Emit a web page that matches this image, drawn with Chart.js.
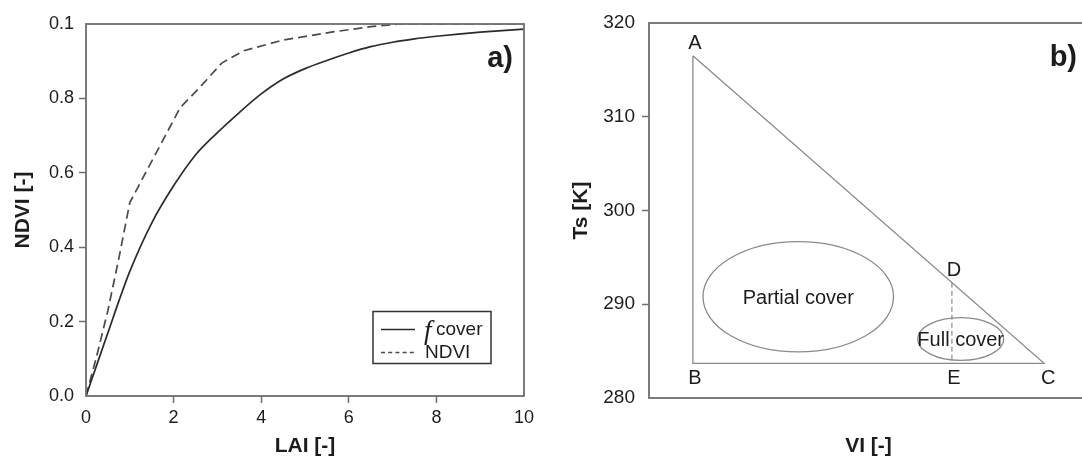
<!DOCTYPE html>
<html>
<head>
<meta charset="utf-8">
<script src="https://cdn.jsdelivr.net/npm/chart.js@4/dist/chart.umd.min.js"></script>
<style>
  html, body { margin: 0; padding: 0; background: #ffffff; overflow: hidden; width: 1082px; height: 459px; }
  #wrap { position: relative; width: 1082px; height: 459px; overflow: hidden; }
  canvas { position: absolute; top: 0; }
  #chartA { left: 0; }
  #chartB { left: 540px; }
</style>
</head>
<body>
<div id="wrap">
  <canvas id="chartA" width="540" height="459"></canvas>
  <canvas id="chartB" width="560" height="459"></canvas>
</div>
<script>
// ---- Panel a) : fcover and NDVI as a function of LAI ----
const laiFcover = [0, 0.25, 0.5, 0.75, 1, 1.5, 2, 2.5, 3, 3.5, 4, 4.5, 5, 5.5, 6, 6.5, 7, 7.5, 8, 8.5, 9, 9.5, 10];
const fcover    = [0, 0.085, 0.17, 0.255, 0.335, 0.465, 0.565, 0.648, 0.708, 0.762, 0.812, 0.852, 0.880, 0.902, 0.922, 0.939, 0.951, 0.960, 0.967, 0.973, 0.978, 0.982, 0.986];
const laiNdvi   = [0, 0.25, 0.5, 0.75, 1, 2.15, 2.6, 3.1, 3.6, 4.5, 5.6, 6.5, 7.2, 10];
const ndvi      = [0, 0.11, 0.23, 0.37, 0.52, 0.775, 0.83, 0.895, 0.928, 0.957, 0.978, 0.993, 1.0, 1.0];
const laiTicks  = [0, 2, 4, 6, 8, 10];
const ndviTickLabels = ['0.0', '0.2', '0.4', '0.6', '0.8', '0.1'];
const seriesNames = ['ƒcover', 'NDVI'];

// ---- Panel b) : Ts / VI triangle ----
const vertexNames = ['A', 'B', 'C', 'D', 'E'];
const vertexVI    = [0.10, 0.10, 0.90, 0.69, 0.69];
const vertexTs    = [316.5, 283.7, 283.7, 292.3, 283.7];
const regionNames = ['Partial cover', 'Full cover'];
const regionVI    = [0.34, 0.71];
const regionTs    = [290.8, 286.3];
const regionRadVI = [0.217, 0.098];
const regionRadTs = [5.88, 2.28];
const tsTicks     = [280, 290, 300, 310, 320];

const FONT = "'Liberation Sans', Arial, sans-serif";
const SERIF = "'Liberation Serif', 'Times New Roman', serif";
const TEXT = '#1c1c1c';
const FRAME = '#6e6e6e';

const pts = (xs, ys) => xs.map((x, i) => ({ x, y: ys[i] }));
const edgeTickColor = c => (c.index === 0 || c.index === c.scale.ticks.length - 1) ? 'rgba(0,0,0,0)' : FRAME;

// frame around the plotting area
const framePlugin = {
  id: 'frame',
  afterDraw(chart) {
    const { ctx, chartArea: a } = chart;
    ctx.save();
    ctx.strokeStyle = FRAME;
    ctx.lineWidth = 1.8;
    ctx.strokeRect(a.left, a.top, a.right - a.left, a.bottom - a.top);
    ctx.restore();
  }
};

// panel tag in the upper right corner
const tagPlugin = {
  id: 'tag',
  afterDraw(chart, args, opts) {
    const { ctx, chartArea: a } = chart;
    ctx.save();
    ctx.fillStyle = TEXT;
    ctx.font = `bold 29px ${FONT}`;
    ctx.textAlign = 'right';
    ctx.textBaseline = 'middle';
    ctx.fillText(opts.text, a.right - 11, a.top + 35);
    ctx.restore();
  }
};

// boxed legend inside the lower right of panel a)
const boxLegendPlugin = {
  id: 'boxLegend',
  afterDraw(chart) {
    const { ctx, chartArea: a } = chart;
    const w = 118, h = 52;
    const x0 = a.right - 33 - w, y0 = a.bottom - 32.5 - h;
    ctx.save();
    ctx.strokeStyle = '#333';
    ctx.lineWidth = 1.5;
    ctx.strokeRect(x0, y0, w, h);
    chart.data.datasets.forEach((ds, i) => {
      const y = y0 + 18 + i * 23;
      ctx.strokeStyle = ds.borderColor;
      ctx.lineWidth = 1.6;
      ctx.setLineDash(ds.borderDash && ds.borderDash.length ? [4, 3.2] : []);
      ctx.beginPath();
      ctx.moveTo(x0 + 8, y);
      ctx.lineTo(x0 + 42, y);
      ctx.stroke();
      ctx.setLineDash([]);
      ctx.fillStyle = TEXT;
      ctx.textAlign = 'left';
      ctx.textBaseline = 'middle';
      let label = ds.label, tx = x0 + 52;
      if (label.startsWith('ƒ')) {
        // the fraction symbol is set as an italic f
        ctx.font = `italic 27px ${SERIF}`;
        ctx.fillText('f', tx - 1, y + 2);
        tx += 11;
        label = label.slice(1);
      }
      ctx.font = `19px ${FONT}`;
      ctx.fillText(label, tx, y);
    });
    ctx.restore();
  }
};

new Chart(document.getElementById('chartA'), {
  type: 'line',
  data: {
    datasets: [
      {
        label: seriesNames[0],
        data: pts(laiFcover, fcover),
        borderColor: '#2b2b2b',
        borderWidth: 1.7,
        pointRadius: 0,
        cubicInterpolationMode: 'monotone',
        fill: false
      },
      {
        label: seriesNames[1],
        data: pts(laiNdvi, ndvi),
        borderColor: '#4a4a4a',
        borderWidth: 1.7,
        borderDash: [9, 5],
        pointRadius: 0,
        tension: 0,
        fill: false
      }
    ]
  },
  options: {
    responsive: false,
    animation: false,
    devicePixelRatio: 1,
    layout: { padding: { top: 24, right: 16, left: 0, bottom: 0 } },
    plugins: {
      legend: { display: false },
      tooltip: { enabled: false },
      tag: { text: 'a)' }
    },
    scales: {
      x: {
        type: 'linear',
        min: 0, max: 10,
        afterBuildTicks: s => { s.ticks = laiTicks.map(v => ({ value: v })); },
        ticks: { color: TEXT, font: { family: FONT, size: 18 }, padding: 4, maxRotation: 0 },
        grid: { drawOnChartArea: false, tickLength: 7, tickWidth: 1.5, tickColor: edgeTickColor },
        border: { display: false },
        title: { display: true, text: 'LAI [-]', color: TEXT, font: { family: FONT, size: 21, weight: 'bold' }, padding: { top: 0, bottom: 0 } },
        afterFit: s => { s.height = 63; }
      },
      y: {
        type: 'linear',
        min: 0, max: 1,
        ticks: {
          stepSize: 0.2,
          color: TEXT, font: { family: FONT, size: 18 }, padding: 5,
          callback: (v, i) => ndviTickLabels[i]
        },
        grid: { drawOnChartArea: false, tickLength: 7, tickWidth: 1.5, tickColor: edgeTickColor },
        border: { display: false },
        title: { display: true, text: 'NDVI [-]', color: TEXT, font: { family: FONT, size: 21, weight: 'bold' }, padding: { top: 11, bottom: 0 } },
        afterFit: s => { s.width = 86; }
      }
    }
  },
  plugins: [framePlugin, tagPlugin, boxLegendPlugin]
});

// ellipses and text annotations of panel b)
const triangleAnnotations = {
  id: 'triangleAnnotations',
  afterDatasetsDraw(chart) {
    const { ctx, scales: { x, y } } = chart;
    ctx.save();
    ctx.strokeStyle = '#8a8a8a';
    ctx.lineWidth = 1.3;
    regionNames.forEach((name, i) => {
      const cx = x.getPixelForValue(regionVI[i]);
      const cy = y.getPixelForValue(regionTs[i]);
      const rx = Math.abs(x.getPixelForValue(regionVI[i] + regionRadVI[i]) - cx);
      const ry = Math.abs(y.getPixelForValue(regionTs[i] + regionRadTs[i]) - cy);
      ctx.beginPath();
      ctx.ellipse(cx, cy, rx, ry, 0, 0, Math.PI * 2);
      ctx.stroke();
      ctx.fillStyle = TEXT;
      ctx.font = `20px ${FONT}`;
      ctx.textAlign = 'center';
      ctx.textBaseline = 'middle';
      ctx.fillText(name, cx, cy + 2);
    });
    ctx.font = `20px ${FONT}`;
    ctx.textAlign = 'center';
    vertexNames.forEach((name, i) => {
      const px = x.getPixelForValue(vertexVI[i]);
      const py = y.getPixelForValue(vertexTs[i]);
      const above = (name === 'A' || name === 'D');
      ctx.textBaseline = above ? 'bottom' : 'top';
      ctx.fillText(name, px + (name === 'C' ? 4 : 2), above ? py - 2 : py + 5);
    });
    ctx.restore();
  }
};

const iA = vertexNames.indexOf('A'), iB = vertexNames.indexOf('B'), iC = vertexNames.indexOf('C');
const iD = vertexNames.indexOf('D'), iE = vertexNames.indexOf('E');

new Chart(document.getElementById('chartB'), {
  type: 'line',
  data: {
    datasets: [
      {
        label: 'ABC',
        data: [iA, iC, iB, iA].map(k => ({ x: vertexVI[k], y: vertexTs[k] })),
        borderColor: '#8a8a8a',
        borderWidth: 1.3,
        pointRadius: 0,
        tension: 0,
        fill: false
      },
      {
        label: 'DE',
        data: [iD, iE].map(k => ({ x: vertexVI[k], y: vertexTs[k] })),
        borderColor: '#8a8a8a',
        borderWidth: 1.2,
        borderDash: [5, 3],
        pointRadius: 0,
        tension: 0,
        fill: false
      }
    ]
  },
  options: {
    responsive: false,
    animation: false,
    devicePixelRatio: 1,
    layout: { padding: { top: 23, right: 12, left: 0, bottom: 0 } },
    plugins: {
      legend: { display: false },
      tooltip: { enabled: false },
      tag: { text: 'b)' }
    },
    scales: {
      x: {
        type: 'linear',
        min: 0, max: 1,
        ticks: { display: false },
        grid: { display: false },
        border: { display: false },
        title: { display: true, text: 'VI [-]', color: TEXT, font: { family: FONT, size: 21, weight: 'bold' }, padding: { top: 0, bottom: 0 } },
        afterFit: s => { s.height = 61; }
      },
      y: {
        type: 'linear',
        min: 280, max: 320,
        afterBuildTicks: s => { s.ticks = tsTicks.map(v => ({ value: v })); },
        ticks: { color: TEXT, font: { family: FONT, size: 19 }, padding: 7 },
        grid: { drawOnChartArea: false, tickLength: 7, tickWidth: 1.5, tickColor: edgeTickColor },
        border: { display: false },
        title: { display: true, text: 'Ts [K]', color: TEXT, font: { family: FONT, size: 21, weight: 'bold' }, padding: { top: 29, bottom: 0 } },
        afterFit: s => { s.width = 109; }
      }
    }
  },
  plugins: [framePlugin, tagPlugin, triangleAnnotations]
});
</script>
</body>
</html>
